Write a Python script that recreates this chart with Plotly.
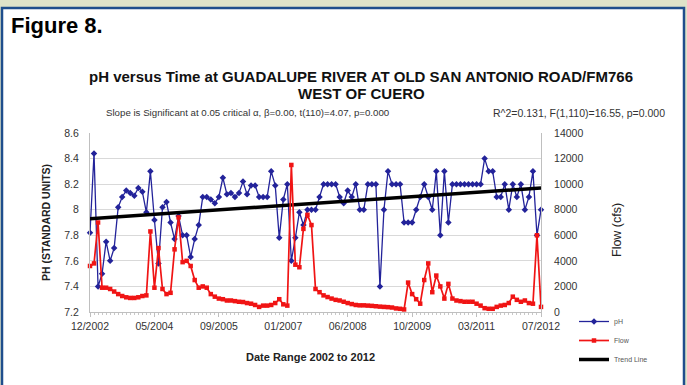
import plotly.graph_objects as go

# ---- data ----
tick_labels = ["12/2002", "05/2004", "09/2005", "01/2007", "06/2008", "10/2009", "03/2011", "07/2012"]

ph = [7.82, 8.44, 7.40, 7.50, 7.75, 7.60, 7.70, 8.02, 8.10, 8.15,
      8.13, 8.11, 8.17, 8.14, 7.98, 8.30, 7.92, 7.58, 8.02, 8.06,
      7.90, 7.77, 7.95, 7.80, 7.80, 7.63, 7.77, 7.88, 8.10, 8.10,
      8.08, 8.05, 8.10, 8.25, 8.12, 8.13, 8.10, 8.13, 8.22, 8.12,
      8.19, 8.19, 8.10, 8.10, 8.10, 8.30, 8.19, 7.78, 8.08, 8.20,
      7.60, 7.78, 7.98, 7.88, 8.00, 8.00, 8.00, 8.10, 8.20, 8.20,
      8.20, 8.20, 8.10, 8.05, 8.15, 8.10, 8.20, 8.00, 8.00, 8.20,
      8.20, 8.20, 7.40, 8.00, 8.30, 8.20, 8.20, 8.20, 7.90, 7.90,
      7.90, 8.00, 8.10, 8.20, 8.10, 8.00, 8.30, 7.80, 8.30, 7.90,
      8.20, 8.20, 8.20, 8.20, 8.20, 8.20, 8.20, 8.20, 8.40, 8.30,
      8.30, 8.10, 8.10, 8.20, 8.00, 8.20, 8.10, 8.20, 8.00, 8.10,
      8.30, 7.80, 8.00]

flow = [3600, 3800, 7000, 1900, 1900, 1800, 1600, 1400, 1250, 1150,
        1100, 1100, 1150, 1250, 1300, 6300, 1900, 5000, 1800, 1400,
        1500, 4900, 7400, 3900, 4000, 3600, 2500, 1900, 2000, 1900,
        1400, 1200, 1050, 1000, 900, 900, 850, 800, 780, 700,
        650, 550, 400, 500, 500, 550, 700, 1000, 600, 500,
        11500, 3700, 3500, 6500, 7600, 6800, 1800, 1550, 1300, 1170,
        1050, 950, 900, 800, 700, 620, 550, 520, 520, 500,
        480, 450, 420, 400, 380, 350, 280, 250, 200, 2300,
        1400, 1000, 650, 2500, 3800, 1550, 2850, 2000, 1050, 2200,
        1050, 900, 850, 800, 800, 800, 650, 500, 300, 250,
        250, 400, 500, 550, 700, 1200, 950, 800, 900, 700,
        650, 6000, 400]

trend_ends = [7.93, 8.17]

idx = list(range(len(ph)))
tick_step = 16
tick_pos = [i * tick_step for i in range(len(tick_labels))]
last = idx[-1]

# ---- layout helpers (pixel -> paper) ----
PL, PR, PT, PB = 90, 541, 133, 312
def px(x):
    return (x - PL) / (PR - PL)
def py(y):
    return (PB - y) / (PB - PT)

BLUE = "#23239a"
RED = "#f01414"
FONT = "Liberation Sans, Arial, sans-serif"

fig = go.Figure()
fig.add_trace(go.Scatter(x=idx, y=ph, name="pH", mode="lines+markers",
                         line=dict(color=BLUE, width=1.3),
                         marker=dict(symbol="diamond", size=5, color=BLUE),
                         cliponaxis=False, legendrank=1))
fig.add_trace(go.Scatter(x=[0, last], y=trend_ends, name="Trend Line", mode="lines",
                         line=dict(color="black", width=3.5), legendrank=3))
fig.add_trace(go.Scatter(x=idx, y=flow, name="Flow", mode="lines+markers", yaxis="y2",
                         line=dict(color=RED, width=1.7),
                         marker=dict(symbol="square", size=4.5, color=RED),
                         cliponaxis=False, legendrank=2))

ann = []
def add(text, x, y, size, bold=False, xa="center", ya="middle", angle=0, color="#111"):
    ann.append(dict(text=f"<b>{text}</b>" if bold else text, x=px(x), y=py(y), xref="paper", yref="paper",
                    xanchor=xa, yanchor=ya, textangle=angle, showarrow=False,
                    font=dict(size=size, color=color, family=FONT)))

add("Figure 8.", 9, 25, 22, bold=True, xa="left", color="#000")
add("pH versus Time at GUADALUPE RIVER AT OLD SAN ANTONIO ROAD/FM766", 361, 76, 15, bold=True)
add("WEST OF CUERO", 361, 93, 15, bold=True)
add("Slope is Significant at 0.05 critical α, β=0.00, t(110)=4.07, p=0.000", 104, 113, 9.7,
    xa="left", color="#333")
add("R^2=0.131, F(1,110)=16.55, p=0.000", 667, 113, 10.5, xa="right", color="#333")
add("PH (STANDARD UNITS)", 46, 223, 10.5, bold=True, angle=-90, color="#222")
add("Flow (cfs)", 617, 230, 12.5, angle=-90, color="#222")
add("Date Range 2002 to 2012", 310, 357, 11, bold=True, color="#222")

fig.update_layout(
    width=687, height=385,
    margin=dict(l=PL, r=687 - PR, t=PT, b=385 - PB, pad=0, autoexpand=False),
    paper_bgcolor="#dfe3c9", plot_bgcolor="white",
    font=dict(family=FONT, color="#333"),
    annotations=ann,
    shapes=[dict(type="rect", xref="paper", yref="paper", layer="below",
                 x0=px(2), x1=px(684), y0=py(400), y1=py(8),
                 fillcolor="white", line=dict(color="#1f4e8c", width=2.5))],
    xaxis=dict(range=[0, last], tickvals=tick_pos, ticktext=tick_labels, showgrid=False,
               showline=True, linecolor="#bfbfbf", linewidth=1, ticks="outside", ticklen=4,
               tickcolor="#bfbfbf", tickfont=dict(size=10.5, color="#333"), zeroline=False,
               minor=dict(dtick=1, ticks="outside", ticklen=2, tickcolor="#c8c8c8")),
    yaxis=dict(range=[7.2, 8.6], tick0=7.2, dtick=0.2, showgrid=True, gridcolor="#d9d9d9",
               showline=True, linecolor="#bfbfbf", zeroline=False, ticks="",
               ticklabelstandoff=8, tickfont=dict(size=10.5, color="#333")),
    yaxis2=dict(range=[0, 14000], dtick=2000, tickformat="d", overlaying="y", side="right",
                showgrid=False, showline=True, linecolor="#bfbfbf", zeroline=False, ticks="",
                ticklabelstandoff=10, tickfont=dict(size=10.5, color="#333")),
    legend=dict(x=px(574), y=py(307), xanchor="left", yanchor="top", traceorder="normal",
                font=dict(size=7, color="#555"), bgcolor="rgba(0,0,0,0)", itemwidth=30,
                tracegroupgap=0),
)

fig.write_html("out.html", config={"displayModeBar": False},
               post_script="document.body.style.margin='0px';document.body.style.padding='0px';")
